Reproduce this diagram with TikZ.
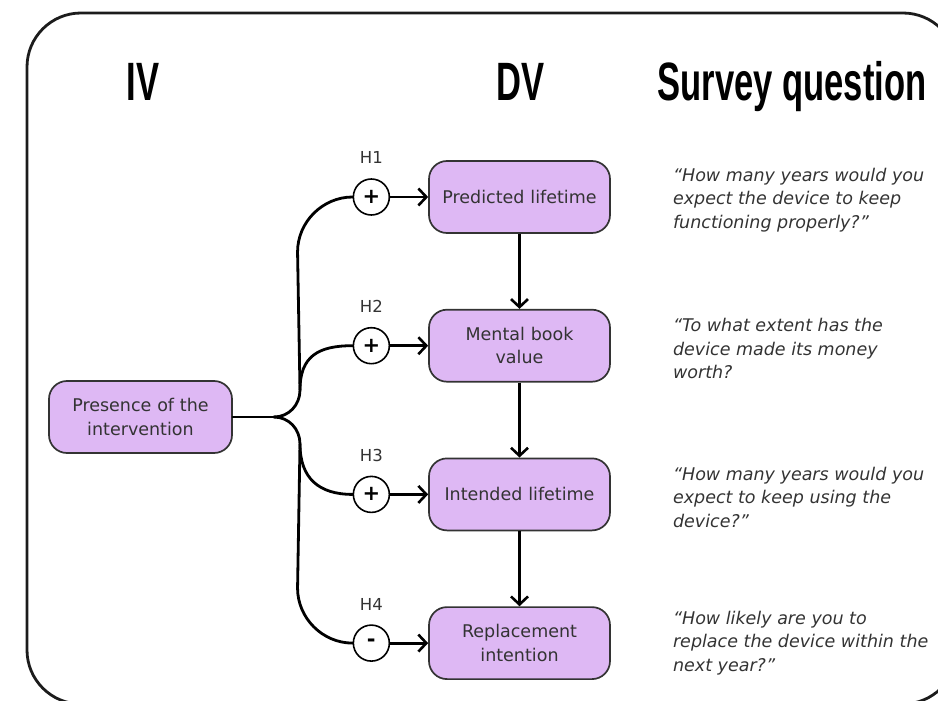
\documentclass[tikz,border=0pt]{standalone}
\usepackage{fontspec}
\setmainfont{DejaVu Sans}
\newfontfamily\headfont{Liberation Sans}
\usepackage{tikz}
\usetikzlibrary{arrows.meta,positioning}
\definecolor{lilac}{HTML}{DEB8F4}
\definecolor{ink}{HTML}{333333}
\definecolor{frameink}{HTML}{1C1C1C}
\newcommand{\squeeze}[1]{\scalebox{0.64}[1]{#1}}
\tikzstyle{var}=[rectangle, rounded corners=18pt, draw=ink, line width=1.7pt, fill=lilac, minimum width=181pt, minimum height=72pt, text width=170pt, align=center, text=ink, font=\fontsize{17.5}{23.5}\selectfont]
\tikzstyle{sign}=[circle, draw=black, line width=1.6pt, fill=white, minimum size=36pt, inner sep=0pt, font=\fontsize{21}{21}\selectfont\bfseries]
\tikzstyle{hyp}=[inner sep=0pt, text=ink, font=\fontsize{16.5}{16.5}\selectfont]
\tikzstyle{quote}=[anchor=west, align=left, inner sep=0pt, text=ink, font=\fontsize{17.5}{23.5}\selectfont\itshape]
\tikzstyle{head}=[anchor=base, inner sep=0pt, text=black, font=\headfont\bfseries\fontsize{54}{54}\selectfont]
\tikzstyle{wire}=[line width=2.8pt, line cap=round]
\tikzstyle{link}=[line width=2.8pt, -{Straight Barb[length=8pt,width=17pt,line width=2.6pt]}]

\begin{document}
\begin{tikzpicture}[x=1pt,y=-1pt]
	\useasboundingbox (0,0) rectangle (938,701);
	\begin{scope}
		\clip (0,0) rectangle (938,701);
		\draw[frameink, line width=2.8pt, rounded corners=54pt] (27,13) rectangle (957,704);
	\end{scope}

	% column heads
	\node[head](iv) at (143,100) {\squeeze{IV}};
	\node[head](dv) at (521,100) {\squeeze{DV}};
	\node[head](sq) at (792,100) {\squeeze{Survey question}};

	% dependent variables, top to bottom
	\node[var](pred) at (519.5,197) {Predicted lifetime};
	\node[var](book)[below=75pt of pred] {Mental book\\value};
	\node[var](intd)[below=75pt of book] {Intended lifetime};
	\node[var](repl)[below=75pt of intd] {Replacement\\intention};
	\draw[link] (pred) -- (book);
	\draw[link] (book) -- (intd);
	\draw[link] (intd) -- (repl);

	% hypotheses
	\node[sign](h1)[left=38pt of pred] {+};
	\node[sign](h2)[left=38pt of book] {+};
	\node[sign](h3)[left=38pt of intd] {+};
	\node[sign](h4)[left=38pt of repl] {-};
	\node[hyp](l1)[above=14pt of h1] {H1};
	\node[hyp](l2)[above=14pt of h2] {H2};
	\node[hyp](l3)[above=14pt of h3] {H3};
	\node[hyp](l4)[above=14pt of h4] {H4};
	\draw[link] (h1) -- (pred);
	\draw[link] (h2) -- (book);
	\draw[link] (h3) -- (intd);
	\draw[link] (h4) -- (repl);

	% independent variable and its branches
	\node[var, minimum width=183pt](pres) at (140.5,417) {Presence of the\\intervention};
	\coordinate (split) at ([xshift=41pt]pres.east);
	\coordinate (up) at (300,390);
	\coordinate (down) at (300,444);
	\draw[wire] (pres.east) -- (split);
	\draw[wire] (split) .. controls +(15,0) and +(0,15) .. (up);
	\draw[wire] (split) .. controls +(15,0) and +(0,-15) .. (down);
	\draw[wire] (up) -- ([xshift=-55pt,yshift=-55pt]h1.west) .. controls +(0,-30) and +(-30,0) .. (h1.west);
	\draw[wire] (up) .. controls +(0,-34) and +(-34,0) .. (h2.west);
	\draw[wire] (down) .. controls +(0,34) and +(-34,0) .. (h3.west);
	\draw[wire] (down) -- ([xshift=-55pt,yshift=55pt]h4.west) .. controls +(0,30) and +(-30,0) .. (h4.west);

	% survey questions
	\node[quote](q1)[right=62pt of pred, yshift=-3pt] {``How many years would you\\expect the device to keep\\functioning properly?''};
	\node[quote](q2)[right=62pt of book, yshift=-3pt] {``To what extent has the\\device made its money\\worth?};
	\node[quote](q3)[right=62pt of intd, yshift=-3pt] {``How many years would you\\expect to keep using the\\device?''};
	\node[quote](q4)[right=62pt of repl] {``How likely are you to\\replace the device within the\\next year?''};
\end{tikzpicture}
\end{document}
